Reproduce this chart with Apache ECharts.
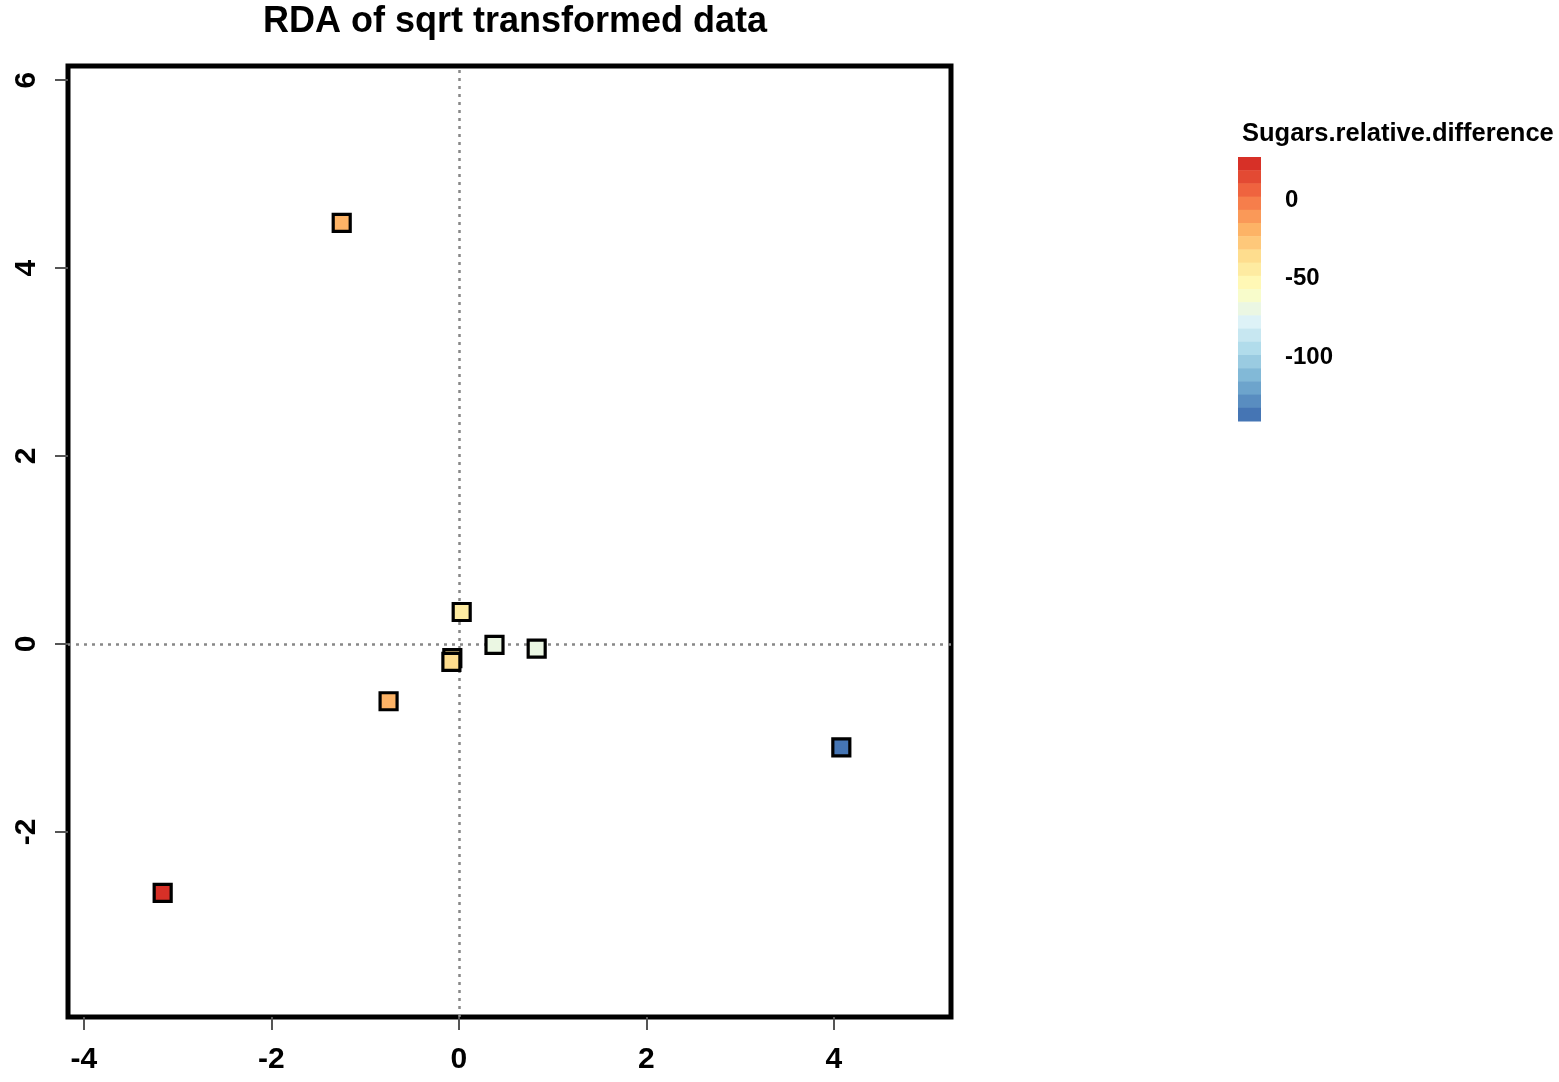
<!DOCTYPE html>
<html>
<head>
<meta charset="utf-8">
<script src="https://cdn.jsdelivr.net/npm/echarts@6/dist/echarts.min.js"></script>
<style>
html,body{margin:0;padding:0;background:#fff;}
#chart{width:1559px;height:1082px;}
</style>
</head>
<body>
<div id="chart"></div>
<script>
// ---- data ----
var rdaX = [-1.25, -3.16, 4.08, 0.03, 0.38, 0.83, -0.07, -0.08, -0.75];
var rdaY = [4.48, -2.65, -1.10, 0.34, -0.01, -0.05, -0.15, -0.19, -0.61];
var sugarsDiff = [-22, 25, -138, -45, -67, -70, -35, -35, -22];
var xTicks = [-4, -2, 0, 2, 4];
var yTicks = [-2, 0, 2, 4, 6];
var legendTicks = [0, -50, -100];
var legendMin = -140.8, legendMax = 27.4, legendBins = 20;
var palette = ['#d73027','#f46d43','#fdae61','#fee090','#ffffbf','#e0f3f8','#abd9e9','#74add1','#4575b4'];

// ---- colour ramp (like colorRampPalette) ----
function hex2rgb(h){return [parseInt(h.substr(1,2),16),parseInt(h.substr(3,2),16),parseInt(h.substr(5,2),16)];}
function ramp(t){
  var pos = t*(palette.length-1), i = Math.min(Math.floor(pos), palette.length-2), f = pos-i;
  var a = hex2rgb(palette[i]), b = hex2rgb(palette[i+1]);
  return 'rgb('+[0,1,2].map(function(k){return Math.round(a[k]+(b[k]-a[k])*f);}).join(',')+')';
}
var binW = (legendMax-legendMin)/legendBins;
var bins = [], pieces = [];
for (var i=0;i<legendBins;i++){
  var hi = legendMax - i*binW, lo = hi - binW;
  var col = ramp(i/(legendBins-1));
  bins.push([lo, hi, col]);
  pieces.push({gte: lo, lt: hi + (i===0?1000:0), color: col});
}
pieces[legendBins-1].gte = legendMin - 1000;

var pts = rdaX.map(function(x,i){return [x, rdaY[i], sugarsDiff[i]];});

var chart = echarts.init(document.getElementById('chart'));
var font = 'Liberation Sans';
chart.setOption({
  animation:false,
  backgroundColor:'#fff',
  title:[
    {text:'RDA of sqrt transformed data', left:510, top:-1, textAlign:'center',
     textStyle:{fontFamily:font, fontWeight:'bold', fontSize:36, color:'#000'}},
    {text:'Sugars.relative.difference', left:1237, top:116,
     textStyle:{fontFamily:font, fontWeight:'bold', fontSize:25.5, color:'#000'}}
  ],
  grid:[
    {left:68, right:608, top:66, bottom:65, show:true, borderColor:'#000', borderWidth:5, backgroundColor:'transparent'},
    {left:1238, width:23, top:157, height:264, show:false}
  ],
  xAxis:[
    {type:'value', gridIndex:0, min:-4.17, max:5.25,
     axisLine:{show:false, onZero:false}, splitLine:{show:false},
     axisTick:{show:true, customValues:xTicks, length:13, lineStyle:{color:'#555', width:2}},
     axisLabel:{customValues:xTicks, margin:28, fontFamily:font, fontWeight:'bold', fontSize:30, color:'#000'}},
    {type:'value', gridIndex:1, min:0, max:1, show:false}
  ],
  yAxis:[
    {type:'value', gridIndex:0, min:-3.97, max:6.15,
     axisLine:{show:false, onZero:false}, splitLine:{show:false},
     axisTick:{show:true, customValues:yTicks, length:13, lineStyle:{color:'#555', width:2}},
     axisLabel:{customValues:yTicks, rotate:90, margin:26, fontFamily:font, fontWeight:'bold', fontSize:30, color:'#000'}},
    {type:'value', gridIndex:1, min:legendMin, max:legendMax, position:'right',
     axisLine:{show:false}, splitLine:{show:false},
     axisTick:{show:true, customValues:legendTicks, length:8, lineStyle:{color:'#555', width:2}},
     axisLabel:{customValues:legendTicks, margin:24, fontFamily:font, fontWeight:'bold', fontSize:24, color:'#000'}}
  ],
  visualMap:{type:'piecewise', show:false, dimension:2, seriesIndex:0, pieces:pieces},
  series:[
    {type:'scatter', xAxisIndex:0, yAxisIndex:0, data:pts, symbol:'rect', symbolSize:17,
     itemStyle:{borderColor:'#000', borderWidth:3.2, opacity:1},
     markLine:{silent:true, symbol:'none', label:{show:false},
       lineStyle:{color:'#888', width:2.5, type:[3,5]},
       data:[{xAxis:0},{yAxis:0}]},
     z:5},
    {type:'custom', xAxisIndex:1, yAxisIndex:1, data:bins,
     renderItem:function(params, api){
       var p1 = api.coord([0, api.value(1)]);
       var p2 = api.coord([1, api.value(0)]);
       return {type:'rect', shape:{x:p1[0], y:p1[1], width:p2[0]-p1[0], height:p2[1]-p1[1]+0.5},
               style:{fill:bins[params.dataIndex][2]}};
     }}
  ]
});
</script>
</body>
</html>
